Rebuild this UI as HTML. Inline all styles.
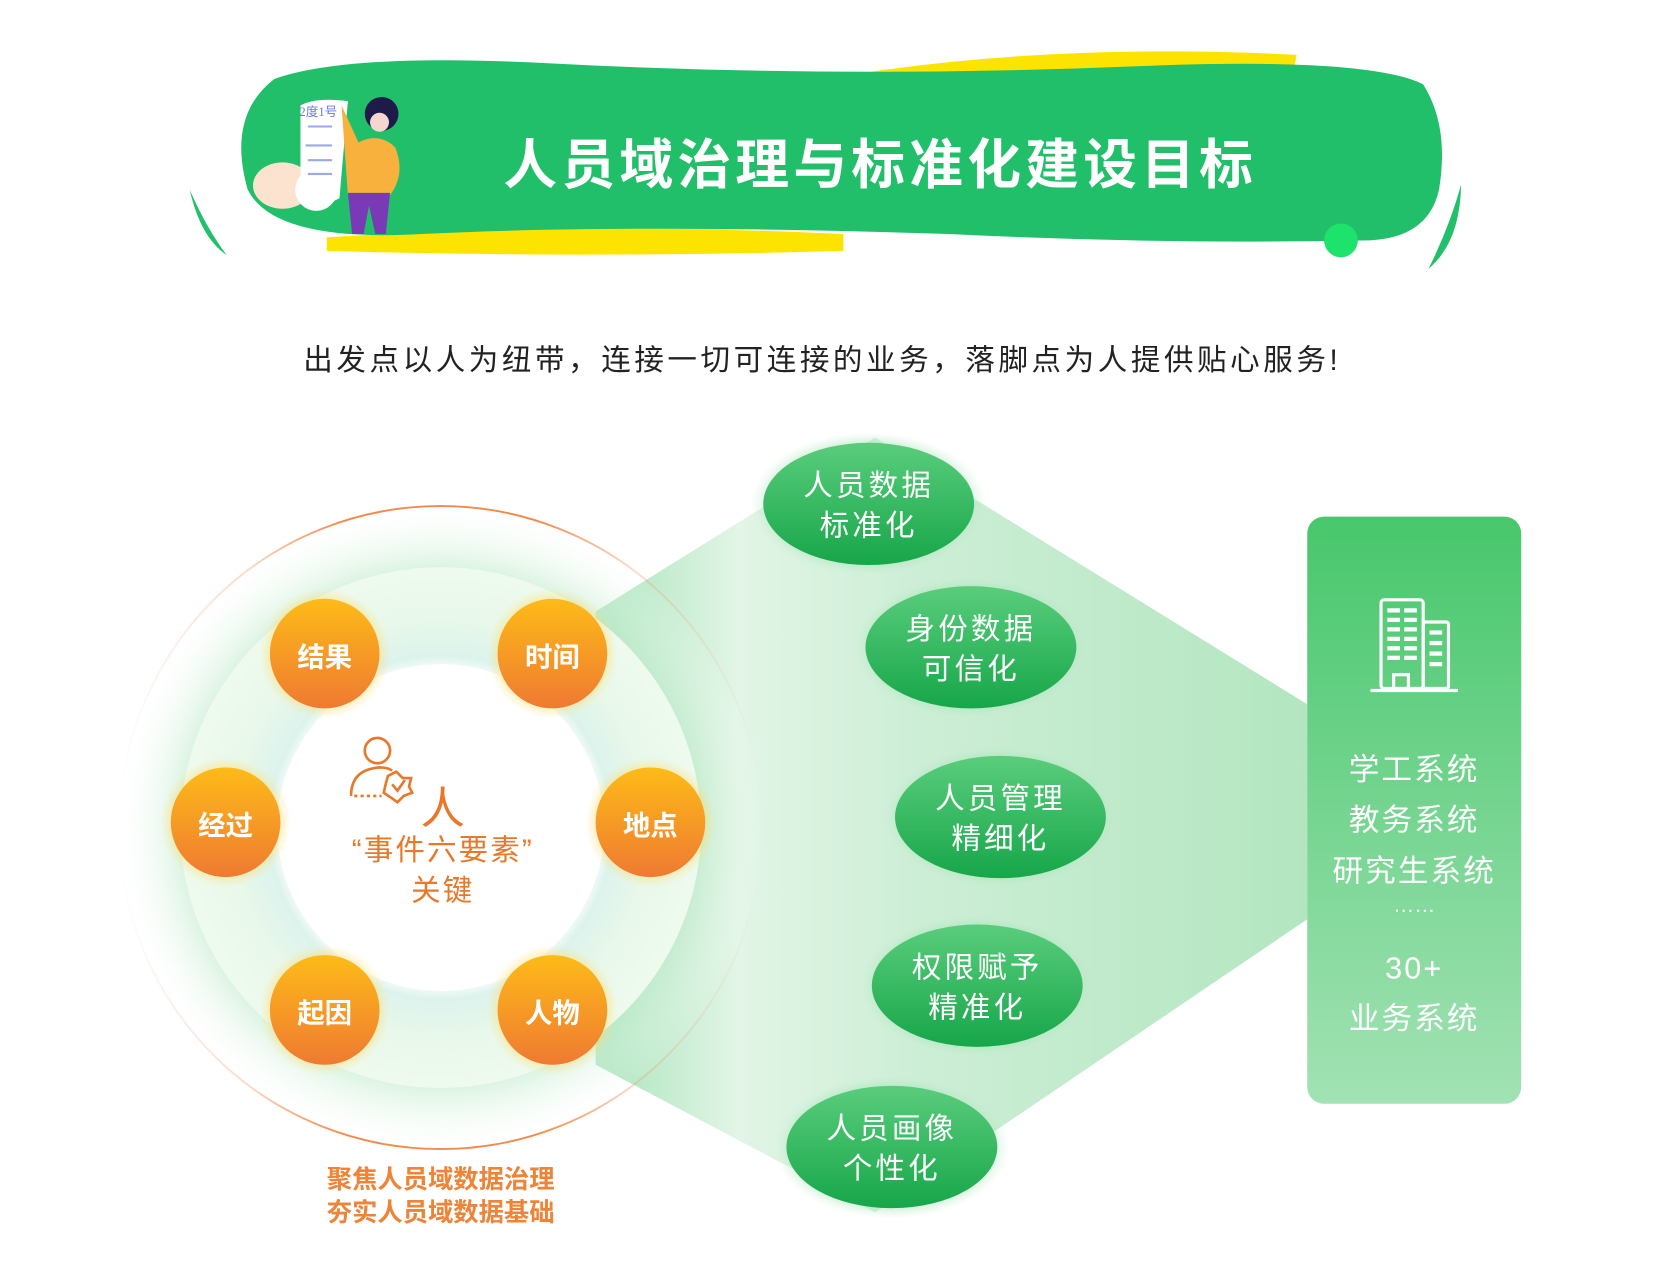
<!DOCTYPE html>
<html><head><meta charset="utf-8"><style>
html,body{margin:0;padding:0;background:#fff;width:1653px;height:1272px;overflow:hidden}
#s{position:absolute;left:0;top:0;width:1568px;height:1207px;transform:scale(1.05421);transform-origin:0 0;font-family:"Liberation Sans","Noto Sans CJK SC",sans-serif}
.t{position:absolute;white-space:nowrap;text-align:center}
</style></head><body><div id="s">
<svg width="1568" height="1207" style="position:absolute;left:0;top:0">
<defs>
<linearGradient id="dia" x1="0" x2="1" y1="0" y2="0"><stop offset="0" stop-color="#a9e4bb"/><stop offset="0.2" stop-color="#e2f5e6"/><stop offset="0.45" stop-color="#cdeed6"/><stop offset="1" stop-color="#b3e6c0"/></linearGradient>
<radialGradient id="ring" cx="0.5" cy="0.5" r="0.5"><stop offset="0.6" stop-color="#ffffff"/><stop offset="0.66" stop-color="#dcf3ec"/><stop offset="0.8" stop-color="#e8f8ea"/><stop offset="1" stop-color="#eefaee"/></radialGradient>
<radialGradient id="glow" cx="0.5" cy="0.5" r="0.5"><stop offset="0.75" stop-color="#b6e8c4" stop-opacity="0.9"/><stop offset="1" stop-color="#ffffff" stop-opacity="0"/></radialGradient>
<linearGradient id="ostroke" x1="0" x2="1" y1="0" y2="0"><stop offset="0" stop-color="#f08a4a" stop-opacity="0"/><stop offset="0.2" stop-color="#f08a4a" stop-opacity="0.3"/><stop offset="0.35" stop-color="#f08a4a" stop-opacity="1"/><stop offset="0.65" stop-color="#f08a4a" stop-opacity="1"/><stop offset="0.8" stop-color="#f08a4a" stop-opacity="0.3"/><stop offset="1" stop-color="#f08a4a" stop-opacity="0"/></linearGradient>
<linearGradient id="ball" x1="0" x2="0" y1="0" y2="1"><stop offset="0" stop-color="#fdbb18"/><stop offset="1" stop-color="#ef7a32"/></linearGradient>
<radialGradient id="bglow" cx="0.5" cy="0.5" r="0.5"><stop offset="0.7" stop-color="#ffd24a" stop-opacity="0.7"/><stop offset="1" stop-color="#ffe27a" stop-opacity="0"/></radialGradient>
<linearGradient id="ell" x1="0" x2="0" y1="0" y2="1"><stop offset="0" stop-color="#5acd7c"/><stop offset="1" stop-color="#17a64a"/></linearGradient>
<radialGradient id="eglow" cx="0.5" cy="0.5" r="0.5"><stop offset="0.75" stop-color="#8fdca4" stop-opacity="0.8"/><stop offset="1" stop-color="#c8efd2" stop-opacity="0"/></radialGradient>
<linearGradient id="pan" x1="0" x2="0" y1="0" y2="1"><stop offset="0" stop-color="#48c76c"/><stop offset="1" stop-color="#a2e2b4"/></linearGradient>
</defs>
<path d="M800 72 Q1000 40 1230 52 L1225 78 Q1000 70 800 80Z" fill="#fde400"/>
<path d="M310 225 Q550 210 800 222 L800 238 Q550 245 310 238Z" fill="#fde400"/>
<path d="M260 75 Q330 50 520 60 Q800 75 1100 62 Q1300 55 1350 80 Q1375 120 1365 180 Q1355 225 1300 228 Q1100 232 900 222 Q600 212 400 222 Q260 230 235 180 Q215 110 260 75Z" fill="#22bf6a"/>
<path d="M180 180 Q190 225 215 242 Q195 215 180 180Z" fill="#22c06b"/>
<path d="M1386 175 Q1385 230 1355 255 Q1375 215 1386 175Z" fill="#22c06b"/>
<circle cx="1272" cy="228" r="16" fill="#1de26c"/>
<ellipse cx="268" cy="176" rx="28" ry="22" fill="#fbe3d0"/>
<path d="M285 100 Q300 92 330 96 L322 188 Q300 200 285 185Z" fill="#fff"/>
<circle cx="300" cy="180" r="20" fill="#fff"/>
<g stroke="#9aa8ee" stroke-width="2"><line x1="292" y1="120" x2="315" y2="120"/><line x1="290" y1="138" x2="315" y2="138"/><line x1="292" y1="152" x2="315" y2="152"/><line x1="292" y1="165" x2="315" y2="165"/></g>
<text x="284" y="110" font-size="12" fill="#6b7ae0" font-family="Liberation Serif">2度1号</text>
<path d="M324 100 L340 135 Q360 125 375 140 Q385 165 370 185 L330 185Z" fill="#f7b13c"/>
<path d="M330 183 L370 183 L366 222 L356 222 L350 195 L345 222 L334 222Z" fill="#7a3ab8"/>
<circle cx="362" cy="108" r="16" fill="#1e1a4a"/><circle cx="360" cy="116" r="9" fill="#f6d6cf"/>
<polygon points="565,580 830,415 1240,668 1240,872 830,1150 565,1010" fill="url(#dia)"/>
<circle cx="418" cy="785" r="310" fill="url(#glow)" opacity="0.8"/>
<circle cx="418" cy="785" r="305" fill="none" stroke="url(#ostroke)" stroke-width="1.8"/>
<circle cx="418" cy="785" r="247" fill="url(#ring)"/>
<circle cx="418" cy="785" r="155" fill="#fff"/>
<g>
<circle cx="308" cy="620" r="62" fill="url(#bglow)"/><circle cx="308" cy="620" r="52" fill="url(#ball)"/>
<circle cx="524" cy="620" r="62" fill="url(#bglow)"/><circle cx="524" cy="620" r="52" fill="url(#ball)"/>
<circle cx="214" cy="780" r="62" fill="url(#bglow)"/><circle cx="214" cy="780" r="52" fill="url(#ball)"/>
<circle cx="617" cy="780" r="62" fill="url(#bglow)"/><circle cx="617" cy="780" r="52" fill="url(#ball)"/>
<circle cx="308" cy="958" r="62" fill="url(#bglow)"/><circle cx="308" cy="958" r="52" fill="url(#ball)"/>
<circle cx="524" cy="958" r="62" fill="url(#bglow)"/><circle cx="524" cy="958" r="52" fill="url(#ball)"/>
</g>
<g fill="none" stroke="#e8782a" stroke-width="2.5">
<circle cx="358" cy="712" r="12"/>
<path d="M333 755 Q333 730 360 728 Q368 728 372 731"/>
<path d="M336 755 L362 755" stroke-dasharray="3 3"/>
<path d="M376 732 L382 738 L390 738 L388 746 L391 752 L383 755 L377 761 L370 756 L364 752 L366 743 L368 736Z"/>
<path d="M372 744 L377 750 L384 740"/>
</g>
<g>
<ellipse cx="824" cy="478" rx="112" ry="68" fill="url(#eglow)"/><ellipse cx="824" cy="478" rx="100" ry="58" fill="url(#ell)"/>
<ellipse cx="921" cy="614" rx="112" ry="68" fill="url(#eglow)"/><ellipse cx="921" cy="614" rx="100" ry="58" fill="url(#ell)"/>
<ellipse cx="949" cy="775" rx="112" ry="68" fill="url(#eglow)"/><ellipse cx="949" cy="775" rx="100" ry="58" fill="url(#ell)"/>
<ellipse cx="927" cy="935" rx="112" ry="68" fill="url(#eglow)"/><ellipse cx="927" cy="935" rx="100" ry="58" fill="url(#ell)"/>
<ellipse cx="846" cy="1088" rx="112" ry="68" fill="url(#eglow)"/><ellipse cx="846" cy="1088" rx="100" ry="58" fill="url(#ell)"/>
</g>
<rect x="1240" y="490" width="203" height="557" rx="16" fill="url(#pan)"/>
<g fill="none" stroke="#fff" stroke-width="3">
<rect x="1310" y="569" width="40" height="84" rx="3"/>
<rect x="1350" y="590" width="24" height="63" rx="2"/>
<line x1="1300" y1="655" x2="1383" y2="655"/>
<rect x="1322" y="640" width="14" height="14"/>
</g>
<g fill="#fff">
<rect x="1316" y="577" width="12" height="4"/><rect x="1332" y="577" width="12" height="4"/>
<rect x="1316" y="586" width="12" height="4"/><rect x="1332" y="586" width="12" height="4"/>
<rect x="1316" y="595" width="12" height="4"/><rect x="1332" y="595" width="12" height="4"/>
<rect x="1316" y="604" width="12" height="4"/><rect x="1332" y="604" width="12" height="4"/>
<rect x="1316" y="613" width="12" height="4"/><rect x="1332" y="613" width="12" height="4"/>
<rect x="1316" y="622" width="12" height="4"/><rect x="1332" y="622" width="12" height="4"/>
<rect x="1356" y="598" width="12" height="4"/><rect x="1356" y="608" width="12" height="4"/><rect x="1356" y="618" width="12" height="4"/><rect x="1356" y="628" width="12" height="4"/>
</g>
</svg>
<div class="t" style="left:440px;top:115px;width:790px;font-size:51px;font-weight:bold;color:#fff;letter-spacing:4px">人员域治理与标准化建设目标</div>
<div class="t" style="left:230px;top:320px;width:1100px;font-size:28px;color:#222;letter-spacing:3.4px">出发点以人为纽带，连接一切可连接的业务，落脚点为人提供贴心服务!</div>
<div class="t" style="left:258px;top:603px;width:100px;font-size:26px;font-weight:bold;color:#fff">结果</div>
<div class="t" style="left:474px;top:603px;width:100px;font-size:26px;font-weight:bold;color:#fff">时间</div>
<div class="t" style="left:164px;top:763px;width:100px;font-size:26px;font-weight:bold;color:#fff">经过</div>
<div class="t" style="left:567px;top:763px;width:100px;font-size:26px;font-weight:bold;color:#fff">地点</div>
<div class="t" style="left:258px;top:941px;width:100px;font-size:26px;font-weight:bold;color:#fff">起因</div>
<div class="t" style="left:474px;top:941px;width:100px;font-size:26px;font-weight:bold;color:#fff">人物</div>
<div class="t" style="left:395px;top:733px;width:50px;font-size:42px;color:#e8782a">人</div>
<div class="t" style="left:300px;top:788px;width:240px;font-size:28px;color:#e8782a;letter-spacing:2px;line-height:38px">“事件六要素”<br>关键</div>
<div class="t" style="left:268px;top:1104px;width:300px;font-size:24px;font-weight:bold;color:#ee8437;line-height:31px">聚焦人员域数据治理<br>夯实人员域数据基础</div>
<div class="t" style="left:724px;top:442px;width:200px;font-size:28px;color:#fff;line-height:38px;letter-spacing:3px">人员数据<br>标准化</div>
<div class="t" style="left:821px;top:578px;width:200px;font-size:28px;color:#fff;line-height:38px;letter-spacing:3px">身份数据<br>可信化</div>
<div class="t" style="left:849px;top:739px;width:200px;font-size:28px;color:#fff;line-height:38px;letter-spacing:3px">人员管理<br>精细化</div>
<div class="t" style="left:827px;top:899px;width:200px;font-size:28px;color:#fff;line-height:38px;letter-spacing:3px">权限赋予<br>精准化</div>
<div class="t" style="left:746px;top:1052px;width:200px;font-size:28px;color:#fff;line-height:38px;letter-spacing:3px">人员画像<br>个性化</div>
<div class="t" style="left:1240px;top:707px;width:203px;font-size:29px;color:#fff;line-height:48px;letter-spacing:2px">学工系统<br>教务系统<br>研究生系统</div>
<div class="t" style="left:1240px;top:848px;width:203px;font-size:20px;color:#fff">……</div>
<div class="t" style="left:1240px;top:895px;width:203px;font-size:29px;color:#fff;line-height:48px;letter-spacing:2px">30+<br>业务系统</div>
</div></body></html>
